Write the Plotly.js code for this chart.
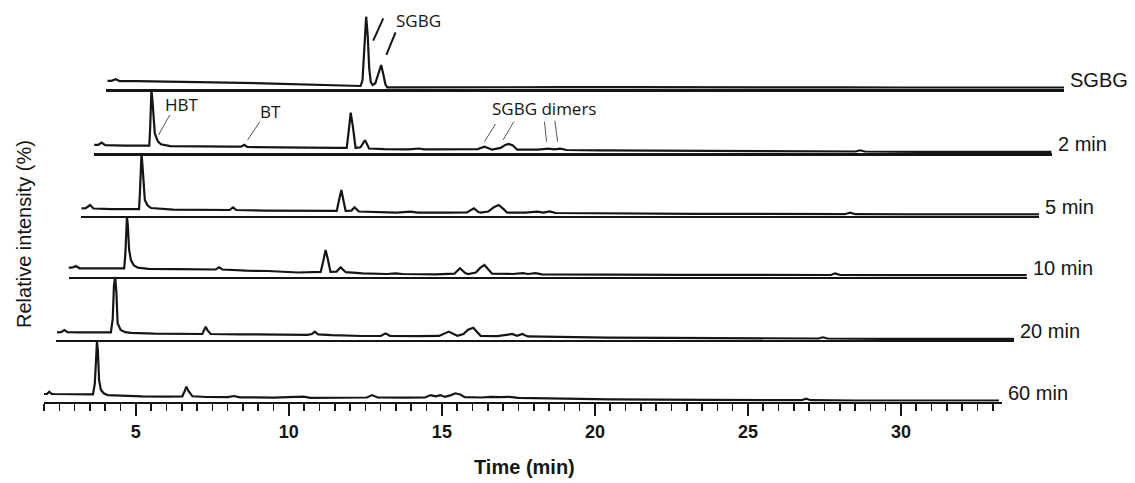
<!DOCTYPE html>
<html>
<head>
<meta charset="utf-8">
<script src="https://cdn.plot.ly/plotly-3.0.1.min.js"></script>
<style>html,body{margin:0;padding:0;background:#fff}#chart{width:1135px;height:483px}</style>
</head>
<body>
<div id="chart"></div>
<script>
// ---- data (time in min, relative intensity in %) ----
const sampleLabels = ['60 min', '20 min', '10 min', '5 min', '2 min', 'SGBG'];

const t60 = [1.99,2.10,2.17,2.25,2.33,2.8,3.3,3.6,3.66,3.70,3.73,3.76,3.80,3.86,3.95,4.08,4.5,5.2,6.0,6.52,6.60,6.65,6.72,6.85,7.3,8.0,8.21,8.4,9.5,10.48,10.7,11.8,12.55,12.72,12.9,13.8,14.45,14.63,14.8,14.95,15.1,15.3,15.44,15.6,15.75,16.3,16.6,16.9,17.2,17.5,18.5,19.5,20.5,22.0,24.0,26.0,26.75,26.9,27.05,28.5,30.0,31.5,33.2];
const i60 = [12.8,13,16.7,13,12.8,12.5,12.5,12.3,30,80,100,85,36,19.5,14,11,10,8.8,8.5,9,18,25,18,9,7.8,7.5,9.5,7.3,6.8,8.5,6.5,6.5,7,11,7,6.8,7,11,9,11,8,11,14,12,7.5,7,8,7.5,8,6.5,5.5,5,4,3.5,3,2.5,2.5,5,2.5,2,2,2,2];

const t20 = [2.02,2.15,2.26,2.36,2.8,3.4,3.78,3.84,3.88,3.92,3.96,4.0,4.1,4.25,4.43,5.2,6.0,6.77,6.83,6.88,6.94,7.04,8.0,9.0,10.2,10.35,10.44,10.55,11.0,12.0,12.6,12.75,12.9,13.8,14.5,14.82,15.0,15.1,15.3,15.45,15.62,15.75,15.86,16.4,16.89,17.05,17.22,17.4,18.5,20.0,22.0,24.0,26.0,26.9,27.04,27.2,29.0,31.0,33.3];
const i20 = [12.8,13,16.7,13,12.8,12.8,12.8,35,90,105,80,28,16.7,13,12,10.5,10,10,17,22,16,10,9.5,9,8.5,10,14,9.5,8,6.7,6.7,11,7,6.5,6.8,14,9,7,10,17,20.5,14,7,6.5,10,7,10,6,5,4,3.5,3,2.5,2.5,4.5,2.5,2,2,2];

const t10 = [1.96,2.1,2.23,2.35,2.9,3.5,3.81,3.85,3.88,3.90,3.93,3.97,4.03,4.12,4.25,4.6,5.5,6.5,6.8,6.91,7.02,7.8,8.5,9.5,10.23,10.31,10.39,10.46,10.55,10.75,10.88,11.05,11.6,12.4,12.68,12.9,14.0,14.6,14.78,14.95,15.05,15.3,15.45,15.58,15.72,15.83,16.5,16.84,17.0,17.25,17.45,18.5,20.0,22.0,24.0,26.0,26.9,27.04,27.2,29.0,31.0,33.3];
const i10 = [15,15,17.8,14,13.9,13.9,13.9,40,90,100,85,45,27.8,19,15,13,12.5,12,12,15.6,12,10,9.5,7,8,25,44.5,30,8,8.5,15.6,7.5,5.5,4.5,5.6,4.5,4,5,14,6,4.5,7,15,19.5,12,5,4.5,6,4.5,6,4,3.5,3,3,3,2.8,2.8,5.6,2.8,2.5,2.5,2.5];

const t5 = [2.01,2.15,2.29,2.4,3.0,3.6,3.89,3.92,3.95,3.97,4.0,4.04,4.08,4.17,4.28,5.0,6.0,6.85,6.96,7.07,8.0,9.0,10.2,10.35,10.42,10.50,10.57,10.64,10.83,10.93,11.07,11.5,12.3,12.76,13.0,14.0,14.6,14.83,14.98,15.05,15.3,15.48,15.64,15.8,15.92,16.5,16.9,17.1,17.31,17.5,18.5,20.0,22.0,24.0,26.0,26.95,27.12,27.3,29.0,31.0,33.3];
const i5 = [12.3,12.5,17.8,12,11,11,11,40,90,104,85,45,26,17,12.8,10,9.5,9.5,14,9.5,8.5,8,8,8,25,42.8,25,8,8.5,14,7,6,5,6.7,5,5,5.5,12.3,6,5,7,14,17.8,11,5,5,6.7,5,7,4.5,4,3.5,3,3,2.5,2.5,5,2.5,2.2,2.2,2.2];

const t2 = [2.02,2.15,2.26,2.38,3.0,3.5,3.82,3.85,3.87,3.89,3.92,3.96,4.0,4.1,4.2,4.5,5.5,6.5,6.82,6.92,7.02,8.0,9.0,10.0,10.27,10.33,10.40,10.47,10.56,10.72,10.87,11.0,11.5,12.3,12.63,12.8,14.0,14.55,14.77,14.95,15.02,15.3,15.45,15.56,15.7,15.84,16.5,16.87,17.05,17.25,17.45,18.5,20.0,22.0,24.0,26.0,26.9,27.04,27.2,29.0,31.0,33.3];
const i2 = [13.9,14,17.8,13.5,12.8,12.8,12.8,45,95,105.5,90,55,33,20,15,12,11,11,11,14,10.5,9.5,9.5,9,9,35,67.8,45,9,10,22,8,7,6.7,8,6.7,6.5,7,11,7,6,9,14,15.5,13,6,6,7.8,6.5,7.8,5.5,5,4.5,4,3.5,3,3,5,3,2.5,2.5,2.5];

const tSG = [2.05,2.18,2.32,2.45,3.0,4.45,5.5,7.16,8.5,9.89,10.32,10.38,10.44,10.50,10.55,10.60,10.65,10.71,10.80,10.92,10.99,11.06,11.13,11.19,12.0,13.0,15.0,17.0,19.0,20.5,23.5,24.0,24.2,26.0,28.0,30.0,33.33];
const iSG = [13.9,14,16.7,13.5,13.5,12.8,11.5,10,8.5,7.2,5.5,15,80,121,90,35,12,7.2,10,32,40.5,25,8,3.3,3.5,3.5,3.5,3.5,3.5,3.5,3.3,4.5,3.3,3.3,3,3,3];

const timeSeries = [t60, t20, t10, t5, t2, tSG];
const intensitySeries = [i60, i20, i10, i5, i2, iSG];

const majorTicks = [5, 10, 15, 20, 25, 30];

// ---- layout geometry (pixels of the 1135x483 page) ----
const W = 1135, H = 483;
const xLeftPx = 44, xRightPx = 1002, stepXPx = 12.4;
const baselinePx = [401.7, 340, 276.7, 215.7, 153.3, 89.3];
const panelHeightPx = 75;
const timeRange = [2.0, 33.3];
const intRange = [0, 125];
const ink = '#151515';

const px = x => x / W;
const py = y => 1 - y / H;
const axName = (p, k) => p + 'axis' + (k === 0 ? '' : (k + 1));
const axRef = (p, k) => p + (k === 0 ? '' : (k + 1));

const data = [];
const layout = {
  width: W, height: H,
  margin: {l: 0, r: 0, t: 0, b: 0},
  paper_bgcolor: '#ffffff',
  plot_bgcolor: 'rgba(0,0,0,0)',
  showlegend: false,
  font: {family: 'Liberation Sans, Arial, sans-serif', color: ink},
  annotations: [],
  shapes: []
};

for (let k = 0; k < 6; k++) {
  data.push({
    type: 'scatter', mode: 'lines',
    x: timeSeries[k], y: intensitySeries[k],
    xaxis: axRef('x', k), yaxis: axRef('y', k),
    name: sampleLabels[k],
    line: {color: ink, width: 2.2},
    hoverinfo: 'skip'
  });
  const xa = {
    domain: [px(xLeftPx + k * stepXPx), px(xRightPx + k * stepXPx)],
    range: timeRange,
    anchor: axRef('y', k),
    showline: true, linecolor: ink, linewidth: 2.4,
    showgrid: false, zeroline: false, fixedrange: true
  };
  if (k === 0) {
    Object.assign(xa, {
      ticks: 'outside', tickmode: 'array', tickvals: majorTicks,
      ticktext: majorTicks.map(String),
      ticklen: 12, tickwidth: 2, tickcolor: ink,
      tickfont: {family: 'Liberation Sans, Arial, sans-serif', size: 18, weight: 'bold', color: ink},
      minor: {ticks: 'outside', dtick: 0.5, tick0: 0, ticklen: 7, tickwidth: 1.6, tickcolor: ink}
    });
  } else {
    Object.assign(xa, {ticks: '', showticklabels: false});
  }
  layout[axName('x', k)] = xa;
  layout[axName('y', k)] = {
    domain: [py(baselinePx[k]), py(baselinePx[k] - panelHeightPx)],
    range: intRange, anchor: axRef('x', k),
    visible: false, fixedrange: true
  };
  layout.annotations.push({
    xref: axRef('x', k), yref: axRef('y', k),
    x: timeRange[1], y: 0, xanchor: 'left', yanchor: 'middle',
    xshift: 4, yshift: 9, showarrow: false,
    text: sampleLabels[k],
    font: {family: 'Liberation Sans, Arial, sans-serif', size: 20, color: ink}
  });
}

// peak labels (on the 2 min and SGBG traces)
const peakFont = {family: 'Open Sans, Noto Sans, sans-serif', size: 17, color: ink};
const k2 = 4, kS = 5;
layout.annotations.push(
  {xref: axRef('x', k2), yref: axRef('y', k2), x: 4.88, y: 82, text: 'HBT', showarrow: false, font: peakFont},
  {xref: axRef('x', k2), yref: axRef('y', k2), x: 7.79, y: 69, text: 'BT', showarrow: false, font: peakFont},
  {xref: axRef('x', k2), yref: axRef('y', k2), x: 16.7, y: 74, text: 'SGBG dimers', showarrow: false, font: peakFont},
  {xref: axRef('x', kS), yref: axRef('y', kS), x: 12.21, y: 114, text: 'SGBG', showarrow: false, font: peakFont}
);
const thin = {color: '#555', width: 1};
const thick = {color: ink, width: 2};
const leader = (k, x0, y0, x1, y1, line) => ({type: 'line', xref: axRef('x', k), yref: axRef('y', k), x0, y0, x1, y1, line});
layout.shapes.push(
  leader(k2, 4.49, 63.8, 4.12, 30.5, thin),
  leader(k2, 7.43, 52.7, 7.03, 22.2, thin),
  leader(k2, 15.13, 48.8, 14.77, 19.3, thin),
  leader(k2, 15.73, 52.7, 15.38, 22.2, thin),
  leader(k2, 16.73, 52.7, 16.80, 19.3, thin),
  leader(k2, 17.07, 54.3, 17.16, 19.3, thin),
  leader(kS, 11.06, 118.3, 10.73, 81, thick),
  leader(kS, 11.46, 95, 11.16, 57.2, thick)
);

// axis titles
layout.annotations.push(
  {xref: 'paper', yref: 'paper', x: px(524.5), y: py(467), xanchor: 'center', yanchor: 'middle',
   text: 'Time (min)', showarrow: false,
   font: {family: 'Liberation Sans, Arial, sans-serif', size: 20, weight: 'bold', color: ink}},
  {xref: 'paper', yref: 'paper', x: px(24), y: py(234), xanchor: 'center', yanchor: 'middle',
   text: 'Relative intensity (%)', textangle: -90, showarrow: false,
   font: {family: 'Liberation Sans, Arial, sans-serif', size: 20, color: ink}}
);

Plotly.newPlot('chart', data, layout, {displayModeBar: false, staticPlot: true});
</script>
</body>
</html>
